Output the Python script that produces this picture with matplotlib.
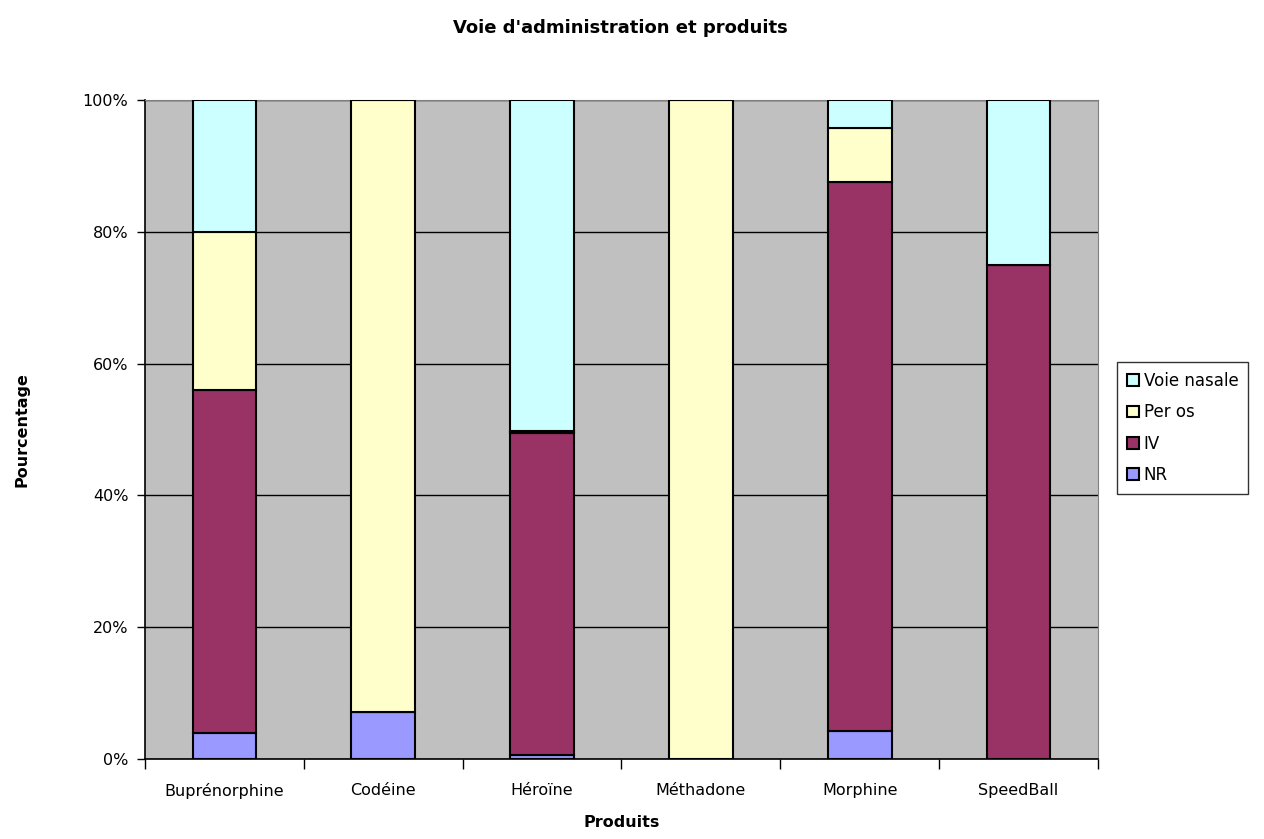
import matplotlib.pyplot as plt
import numpy as np

# share of each administration route per product (%)
produits = ["Buprénorphine", "Codéine", "Héroïne", "Méthadone", "Morphine", "SpeedBall"]
nr = [4.0, 7.1, 0.6, 0.0, 4.2, 0.0]
iv = [52.0, 0.0, 48.8, 0.0, 83.3, 75.0]
per_os = [24.0, 92.9, 0.4, 100.0, 8.3, 0.0]
voie_nasale = [20.0, 0.0, 50.2, 0.0, 4.2, 25.0]

series = [("NR", nr, "#9999FF"),
          ("IV", iv, "#993366"),
          ("Per os", per_os, "#FFFFCC"),
          ("Voie nasale", voie_nasale, "#CCFFFF")]

plt.rcParams["font.family"] = ["DejaVu Sans"]

fig = plt.figure(figsize=(12.64, 8.39), dpi=100)
ax = fig.add_axes([145 / 1264, 80 / 839, 953 / 1264, 659 / 839])
ax.set_facecolor("#C0C0C0")

x = np.arange(len(produits))
bottom = np.zeros(len(produits))
handles = {}
for name, vals, color in series:
    vals = np.array(vals)
    h = ax.bar(x, vals, width=0.4, bottom=bottom, color=color,
               edgecolor="black", linewidth=1.5, zorder=3, label=name)
    handles[name] = h
    bottom += vals

ax.set_xlim(-0.5, len(produits) - 0.5)
ax.set_ylim(0, 100)
ax.set_yticks(np.arange(0, 101, 20))
ax.set_yticklabels(["%d%%" % v for v in range(0, 101, 20)], fontsize=11.5)
ax.yaxis.grid(True, color="black", linewidth=1, zorder=0)
ax.set_axisbelow(True)

ax.set_xticks(x)
ax.set_xticklabels(produits, fontsize=11.5)
ax.tick_params(axis="x", length=0, pad=17)
ax.set_xticks(np.arange(-0.5, len(produits), 1), minor=True)
ax.tick_params(axis="x", which="minor", length=7, width=1, direction="out")
ax.tick_params(axis="y", length=6, width=1, direction="out", pad=6)

for side in ["top", "right"]:
    ax.spines[side].set_color("#808080")
for side in ["left", "bottom"]:
    ax.spines[side].set_color("black")
    ax.spines[side].set_linewidth(1.2)

ax.set_xlabel("Produits", fontsize=11.5, fontweight="bold", labelpad=12)
ax.set_ylabel("Pourcentage", fontsize=11.5, fontweight="bold", labelpad=38)
fig.text(620 / 1264, 1 - 28 / 839, "Voie d'administration et produits",
         ha="center", va="center", fontsize=13, fontweight="bold")

order = ["Voie nasale", "Per os", "IV", "NR"]
leg = fig.legend([handles[n] for n in order], order,
                 loc="upper left", bbox_to_anchor=(1117 / 1264, 1 - 362 / 839),
                 fontsize=12, frameon=True, fancybox=False, borderpad=0.6,
                 handlelength=0.7, handleheight=0.7, handletextpad=0.3,
                 labelspacing=0.8, borderaxespad=0)
leg.get_frame().set_edgecolor("black")
leg.get_frame().set_linewidth(1)

fig.savefig("out.png", dpi=100)
